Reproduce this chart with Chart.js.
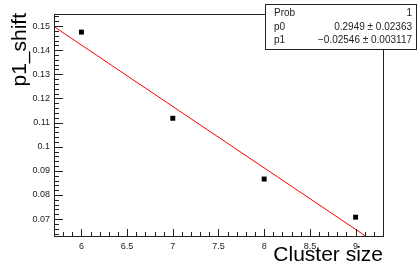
<!DOCTYPE html>
<html>
<head>
<meta charset="utf-8">
<script src="https://cdn.jsdelivr.net/npm/chart.js@4/dist/chart.umd.min.js"></script>
<style>
  html, body { margin: 0; padding: 0; background: #fff; }
  canvas { display: block; }
</style>
</head>
<body>
<canvas id="c" width="418" height="266"></canvas>
<script>
// measured points
var clusterSize = [6, 7, 8, 9];
var p1Shift = [0.1475, 0.1118, 0.0866, 0.0708];

// fit result (pol1)
var fitP0 = 0.2949;
var fitP1 = -0.02546;
var statNames = ["Prob", "p0", "p1"];
var statValues = ["1", "0.2949 \u00b1 0.02363", "\u22120.02546 \u00b1 0.003117"];

var xMin = 5.7, xMax = 9.3;
var yMin = 0.063, yMax = 0.155;

var fitLine = [xMin, xMax].map(function (x) {
  return { x: x, y: fitP0 + fitP1 * x };
});

var font = "'Liberation Sans', Arial, sans-serif";

// ROOT-style frame, inside ticks, titles and stats box
var rootStyle = {
  id: "rootStyle",
  afterDraw: function (chart) {
    var ctx = chart.ctx;
    var a = chart.chartArea;
    var xs = chart.scales.x, ys = chart.scales.y;
    ctx.save();
    ctx.strokeStyle = "#222";
    ctx.lineWidth = 1;
    ctx.strokeRect(Math.round(a.left) + 0.5, Math.round(a.top) + 0.5,
      Math.round(a.right - a.left), Math.round(a.bottom - a.top));

    ctx.beginPath();
    // x ticks, every 0.1, major at 0.5
    for (var i = Math.ceil(xMin * 10); i <= Math.floor(xMax * 10); i++) {
      var px = Math.round(xs.getPixelForValue(i / 10)) + 0.5;
      var len = (i % 5 === 0) ? 7 : 4;
      ctx.moveTo(px, a.bottom);
      ctx.lineTo(px, a.bottom - len);
    }
    // y ticks, every 0.002, major at 0.01
    for (var j = Math.ceil(yMin * 500); j <= Math.floor(yMax * 500); j++) {
      var py = Math.round(ys.getPixelForValue(j / 500)) + 0.5;
      var ylen = (j % 5 === 0) ? 9 : 5;
      ctx.moveTo(a.left, py);
      ctx.lineTo(a.left + ylen, py);
    }
    ctx.stroke();

    // axis titles
    ctx.fillStyle = "#000";
    ctx.font = "21px " + font;
    ctx.textAlign = "right";
    ctx.textBaseline = "alphabetic";
    ctx.fillText("Cluster size", a.right, 261);
    ctx.save();
    ctx.translate(26, a.top - 1);
    ctx.rotate(-Math.PI / 2);
    ctx.fillText("p1_shift", 0, 0);
    ctx.restore();

    // stats box
    var bx = 265, by = 4, bw = 152, bh = 45;
    ctx.fillStyle = "#fff";
    ctx.fillRect(bx, by, bw, bh);
    ctx.strokeStyle = "#222";
    ctx.strokeRect(bx + 0.5, by + 0.5, bw - 1, bh);
    ctx.fillStyle = "#222";
    ctx.font = "10px " + font;
    for (var k = 0; k < statNames.length; k++) {
      var ty = 16 + k * 13.5;
      ctx.textAlign = "left";
      ctx.fillText(statNames[k], bx + 9, ty);
      ctx.textAlign = "right";
      ctx.fillText(statValues[k], bx + bw - 5, ty);
    }
    ctx.restore();
  }
};

new Chart(document.getElementById("c"), {
  type: "scatter",
  data: {
    datasets: [{
      data: clusterSize.map(function (x, i) { return { x: x, y: p1Shift[i] }; }),
      pointStyle: "rect",
      pointRadius: 3.5,
      backgroundColor: "#000",
      borderColor: "#000",
      borderWidth: 0
    }, {
      type: "line",
      data: fitLine,
      borderColor: "#ff0000",
      borderWidth: 1,
      pointRadius: 0,
      fill: false
    }]
  },
  options: {
    responsive: false,
    animation: false,
    events: [],
    layout: { padding: { top: 14, right: 35, left: 0, bottom: 0 } },
    plugins: { legend: { display: false }, tooltip: { enabled: false } },
    scales: {
      x: {
        type: "linear",
        min: xMin,
        max: xMax,
        afterFit: function (s) { s.height = 30; },
        grid: { display: false, drawTicks: false },
        border: { display: false },
        ticks: {
          stepSize: 0.5,
          includeBounds: false,
          maxRotation: 0,
          padding: 5,
          color: "#222",
          font: { family: font, size: 9 },
          callback: function (v) { return String(+v.toFixed(2)); }
        }
      },
      y: {
        type: "linear",
        min: yMin,
        max: yMax,
        afterFit: function (s) { s.width = 54; },
        grid: { display: false, drawTicks: false },
        border: { display: false },
        ticks: {
          stepSize: 0.01,
          includeBounds: false,
          padding: 4,
          color: "#222",
          font: { family: font, size: 9 },
          callback: function (v) { return String(+v.toFixed(3)); }
        }
      }
    }
  },
  plugins: [rootStyle]
});
</script>
</body>
</html>
